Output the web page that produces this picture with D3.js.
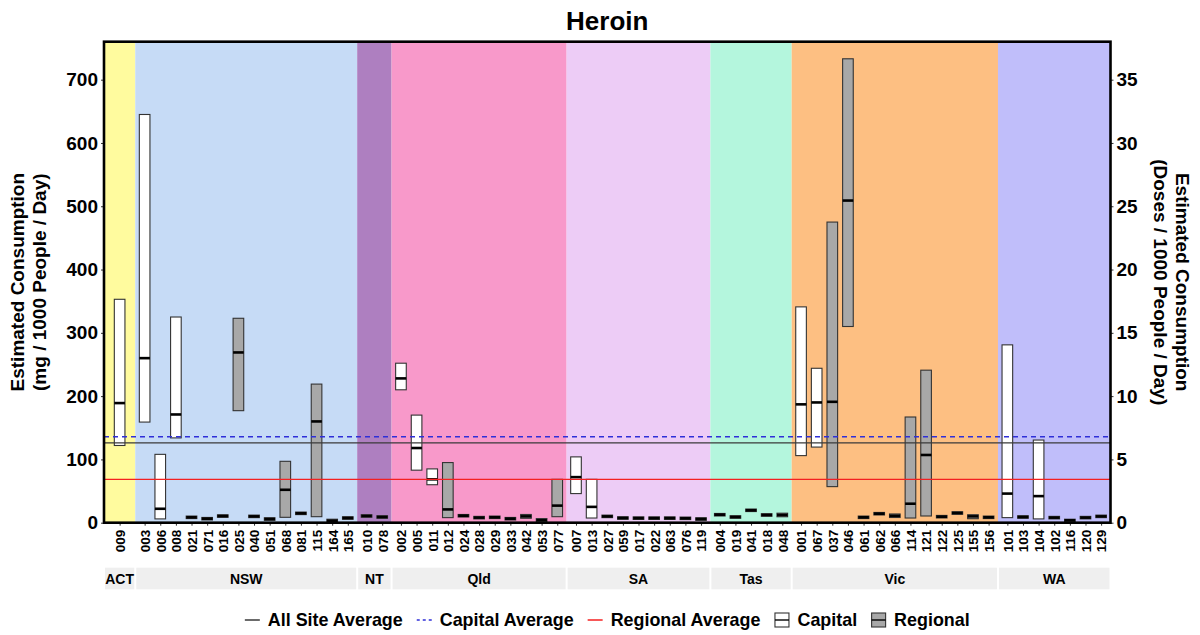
<!DOCTYPE html>
<html>
<head>
<meta charset="utf-8">
<script src="https://cdn.jsdelivr.net/npm/d3@7"></script>
<style>
  body { margin: 0; background: #fff; }
  text { font-family: "Liberation Sans", Arial, sans-serif; font-weight: bold; fill: #000; }
</style>
</head>
<body>
<svg id="chart" width="1200" height="635"></svg>
<script>
// ---- data ----
const states = ["ACT", "NSW", "NT", "Qld", "SA", "Tas", "Vic", "WA"];
const stateColours = ["#FFFB9E", "#C6DBF6", "#AE7FC0", "#F899CA", "#EDCCF6", "#B4F6DD", "#FDBF82", "#C0BEFA"];

const siteCodes = [
  "009",
  "003", "006", "008", "021", "071", "016", "025", "040", "051", "068", "081", "115", "164", "165",
  "010", "078",
  "002", "005", "011", "012", "024", "028", "029", "033", "042", "053", "077",
  "007", "013", "027", "059", "017", "022", "063", "076", "119",
  "004", "019", "041", "018", "048",
  "001", "067", "037", "046", "061", "062", "066", "114", "121", "122", "125", "155", "156",
  "101", "103", "104", "102", "116", "120", "129"
];
const siteStates = [
  "ACT",
  "NSW", "NSW", "NSW", "NSW", "NSW", "NSW", "NSW", "NSW", "NSW", "NSW", "NSW", "NSW", "NSW", "NSW",
  "NT", "NT",
  "Qld", "Qld", "Qld", "Qld", "Qld", "Qld", "Qld", "Qld", "Qld", "Qld", "Qld",
  "SA", "SA", "SA", "SA", "SA", "SA", "SA", "SA", "SA",
  "Tas", "Tas", "Tas", "Tas", "Tas",
  "Vic", "Vic", "Vic", "Vic", "Vic", "Vic", "Vic", "Vic", "Vic", "Vic", "Vic", "Vic", "Vic",
  "WA", "WA", "WA", "WA", "WA", "WA", "WA"
];
const siteTypes = [
  "Capital",
  "Capital", "Capital", "Capital", "Regional", "Regional", "Regional", "Regional", "Regional", "Regional", "Regional", "Regional", "Regional", "Regional", "Regional",
  "Capital", "Regional",
  "Capital", "Capital", "Capital", "Regional", "Regional", "Regional", "Regional", "Regional", "Regional", "Regional", "Regional",
  "Capital", "Capital", "Regional", "Regional", "Regional", "Regional", "Regional", "Regional", "Regional",
  "Capital", "Regional", "Regional", "Regional", "Regional",
  "Capital", "Capital", "Regional", "Regional", "Regional", "Regional", "Regional", "Regional", "Regional", "Regional", "Regional", "Regional", "Regional",
  "Capital", "Regional", "Capital", "Regional", "Regional", "Regional", "Regional"
];
// mg / 1000 people / day : lowest, middle and highest estimate per site
const lowVals = [
  122,
  159, 6, 134, 6.5, 4.3, 8.5, 177, 8, 3.8, 8.5, 12.8, 9.5, 0.5, 5.4,
  8.6, 7,
  210, 83, 60, 8, 9, 6, 6.5, 4.3, 7, 1, 9.5,
  46, 7.4, 8, 5.4, 5.2, 5.2, 5.2, 4.9, 3.8,
  10.6, 7, 17.6, 10.2, 9.4,
  106, 119.5, 57, 310, 6.5, 12.2, 8.2, 7.4, 10.6, 7.5, 13.3, 6.3, 6.5,
  8, 7, 6, 6, 1.5, 6, 8
];
const midVals = [
  189,
  260, 22, 171, 8.5, 6.3, 10.5, 269, 10, 5.8, 52, 14.8, 160, 3.2, 7.4,
  10.6, 9,
  228, 118, 68.5, 21, 11, 8, 8.5, 6.3, 10, 3.8, 27,
  72, 25, 10, 7.4, 7.2, 7.2, 7.2, 6.9, 5.8,
  12.6, 9, 19.6, 12.2, 12.2,
  187, 190, 191, 509, 8.5, 14.2, 11, 30, 107, 9.5, 15.3, 10, 8.5,
  46, 9, 42, 8, 3.8, 8, 10
];
const highVals = [
  353,
  645, 108, 325, 10.5, 8.3, 12.5, 323, 12, 7.8, 97, 16.8, 219, 5.5, 9.4,
  12.6, 11,
  252, 170, 85, 95, 13, 10, 10.5, 8.3, 13, 6.5, 68.5,
  104, 68.5, 12, 9.4, 9.2, 9.2, 9.2, 8.9, 7.8,
  14.6, 11, 21.6, 14.2, 15,
  341, 244, 475, 733, 10.5, 16.2, 13.8, 167, 241, 11.5, 17.3, 12.6, 10.5,
  281, 11, 130.6, 10, 5.5, 10, 12
];
const mgTicks = [0, 100, 200, 300, 400, 500, 600, 700];
const doseTicks = [0, 5, 10, 15, 20, 25, 30, 35];
const mgPerDose = 20;
const allSiteAverage = 126;
const capitalAverage = 136;
const regionalAverage = 68.5;

// ---- layout ----
const svg = d3.select("#chart");
const plot = { left: 104, right: 1110.5, top: 41.7, bottom: 522.7 };

// each state occupies its own panel: sites one unit apart, padded at both ends
const panels = [];
let cursor = 0;
const unitPos = [];
states.forEach(st => {
  const idx = siteStates.map((s, i) => s === st ? i : -1).filter(i => i >= 0);
  const pad = idx.length === 1 ? 1 : 0.6;
  const start = cursor;
  idx.forEach((i, j) => { unitPos[i] = start + pad + j; });
  cursor = start + 2 * pad + idx.length - 1;
  panels.push({ state: st, start, end: cursor });
});

const xUnits = d3.scaleLinear().domain([0, cursor]).range([plot.left, plot.right]);
const xSite = d3.scaleOrdinal().domain(siteCodes).range(siteCodes.map((c, i) => xUnits(unitPos[i])));
const y = d3.scaleLinear().domain([0, 760]).range([plot.bottom, plot.top]);
const yDose = d3.scaleLinear().domain([0, 760 / mgPerDose]).range([plot.bottom, plot.top]);
const boxW = xUnits(0.68) - xUnits(0);

// state backgrounds
svg.append("g").selectAll("rect").data(panels).join("rect")
  .attr("x", d => xUnits(d.start))
  .attr("width", d => xUnits(d.end) - xUnits(d.start))
  .attr("y", plot.top).attr("height", plot.bottom - plot.top)
  .attr("fill", (d, i) => stateColours[i]);

// range boxes
const sites = siteCodes.map((c, i) => ({
  code: c, type: siteTypes[i], lo: lowVals[i], mid: midVals[i], hi: highVals[i]
}));
const boxes = svg.append("g").selectAll("g").data(sites).join("g");
boxes.append("rect")
  .attr("x", d => xSite(d.code) - boxW / 2)
  .attr("width", boxW)
  .attr("y", d => y(d.hi))
  .attr("height", d => y(d.lo) - y(d.hi))
  .attr("fill", d => d.type === "Capital" ? "#ffffff" : "#A8A8A8")
  .attr("stroke", "#333").attr("stroke-width", 1.1);
boxes.append("line")
  .attr("x1", d => xSite(d.code) - boxW / 2)
  .attr("x2", d => xSite(d.code) + boxW / 2)
  .attr("y1", d => y(d.mid)).attr("y2", d => y(d.mid))
  .attr("stroke", "#000").attr("stroke-width", 2.6);

// average lines
const avgLines = [
  { v: allSiteAverage, colour: "#3a3a3a", dash: null, w: 1.3 },
  { v: capitalAverage, colour: "#2f2fd8", dash: "5,4", w: 1.5 },
  { v: regionalAverage, colour: "#f42020", dash: null, w: 1.2 }
];
svg.append("g").selectAll("line").data(avgLines).join("line")
  .attr("x1", plot.left).attr("x2", plot.right)
  .attr("y1", d => y(d.v)).attr("y2", d => y(d.v))
  .attr("stroke", d => d.colour)
  .attr("stroke-width", d => d.w)
  .attr("stroke-dasharray", d => d.dash);

// axes
const styleAxis = g => {
  g.select(".domain").remove();
  g.selectAll(".tick line").attr("stroke", "#333");
  g.selectAll("text").style("font-size", "19px").attr("fill", "#000");
};
svg.append("g").attr("transform", `translate(${plot.left},0)`)
  .call(d3.axisLeft(y).tickValues(mgTicks).tickSize(3).tickPadding(3))
  .call(styleAxis);
svg.append("g").attr("transform", `translate(${plot.right},0)`)
  .call(d3.axisRight(yDose).tickValues(doseTicks).tickSize(3).tickPadding(3))
  .call(styleAxis);
const xAxis = svg.append("g").attr("transform", `translate(0,${plot.bottom})`)
  .call(d3.axisBottom(xSite).tickSize(3).tickPadding(2));
xAxis.select(".domain").remove();
xAxis.selectAll(".tick line").attr("stroke", "#333");
xAxis.selectAll("text")
  .style("font-size", "13.5px")
  .attr("transform", "rotate(-90)")
  .attr("text-anchor", "end")
  .attr("x", -7).attr("y", 0).attr("dy", "0.36em");

// plot frame
svg.append("rect")
  .attr("x", plot.left).attr("y", plot.top)
  .attr("width", plot.right - plot.left).attr("height", plot.bottom - plot.top)
  .attr("fill", "none").attr("stroke", "#000").attr("stroke-width", 2.6);

// state strips beneath the site labels
const strips = svg.append("g").selectAll("g").data(panels).join("g");
strips.append("rect")
  .attr("x", d => xUnits(d.start) + 1)
  .attr("width", d => xUnits(d.end) - xUnits(d.start) - 2)
  .attr("y", 567.7).attr("height", 21.6)
  .attr("fill", "#EFEFEF");
strips.append("text")
  .attr("x", d => (xUnits(d.start) + xUnits(d.end)) / 2)
  .attr("y", 578.5).attr("dy", "0.36em")
  .attr("text-anchor", "middle")
  .style("font-size", "14px")
  .text(d => d.state);

// title and axis titles
svg.append("text").attr("x", (plot.left + plot.right) / 2).attr("y", 30)
  .attr("text-anchor", "middle").style("font-size", "26px").text("Heroin");

const leftTitle = svg.append("text")
  .attr("transform", `translate(26,${(plot.top + plot.bottom) / 2}) rotate(-90)`)
  .attr("text-anchor", "middle").style("font-size", "19px");
leftTitle.append("tspan").attr("x", 0).attr("dy", "-0.1em").text("Estimated Consumption");
leftTitle.append("tspan").attr("x", 0).attr("dy", "1.15em").text("(mg / 1000 People / Day)");

const rightTitle = svg.append("text")
  .attr("transform", `translate(1174,${(plot.top + plot.bottom) / 2}) rotate(90)`)
  .attr("text-anchor", "middle").style("font-size", "19px");
rightTitle.append("tspan").attr("x", 0).attr("dy", "-0.1em").text("Estimated Consumption");
rightTitle.append("tspan").attr("x", 0).attr("dy", "1.15em").text("(Doses / 1000 People / Day)");

// legend
const legendItems = [
  { label: "All Site Average", kind: "line", colour: "#3a3a3a", dash: null },
  { label: "Capital Average", kind: "line", colour: "#2f2fd8", dash: "3,3" },
  { label: "Regional Average", kind: "line", colour: "#f42020", dash: null },
  { label: "Capital", kind: "box", fill: "#ffffff" },
  { label: "Regional", kind: "box", fill: "#A8A8A8" }
];
const legend = svg.append("g");
const ly = 620;
let lx = 0;
const keyW = 15, keyGap = 8, itemGap = 14;
legendItems.forEach(item => {
  const g = legend.append("g").attr("transform", `translate(${lx},0)`);
  if (item.kind === "line") {
    g.append("line").attr("x1", 0).attr("x2", keyW).attr("y1", ly).attr("y2", ly)
      .attr("stroke", item.colour).attr("stroke-width", 1.5).attr("stroke-dasharray", item.dash);
  } else {
    g.append("rect").attr("x", 0.5).attr("y", ly - 7).attr("width", keyW - 1).attr("height", 14)
      .attr("fill", item.fill).attr("stroke", "#333").attr("stroke-width", 1.1);
    g.append("line").attr("x1", 0.5).attr("x2", keyW - 0.5).attr("y1", ly).attr("y2", ly)
      .attr("stroke", "#000").attr("stroke-width", 1.4);
  }
  const t = g.append("text").attr("x", keyW + keyGap).attr("y", ly).attr("dy", "0.36em")
    .style("font-size", "17.9px").text(item.label);
  lx += keyW + keyGap + t.node().getComputedTextLength() + itemGap;
});
const legendWidth = lx - itemGap;
legend.attr("transform", `translate(${(plot.left + plot.right) / 2 - legendWidth / 2},0)`);
</script>
</body>
</html>
